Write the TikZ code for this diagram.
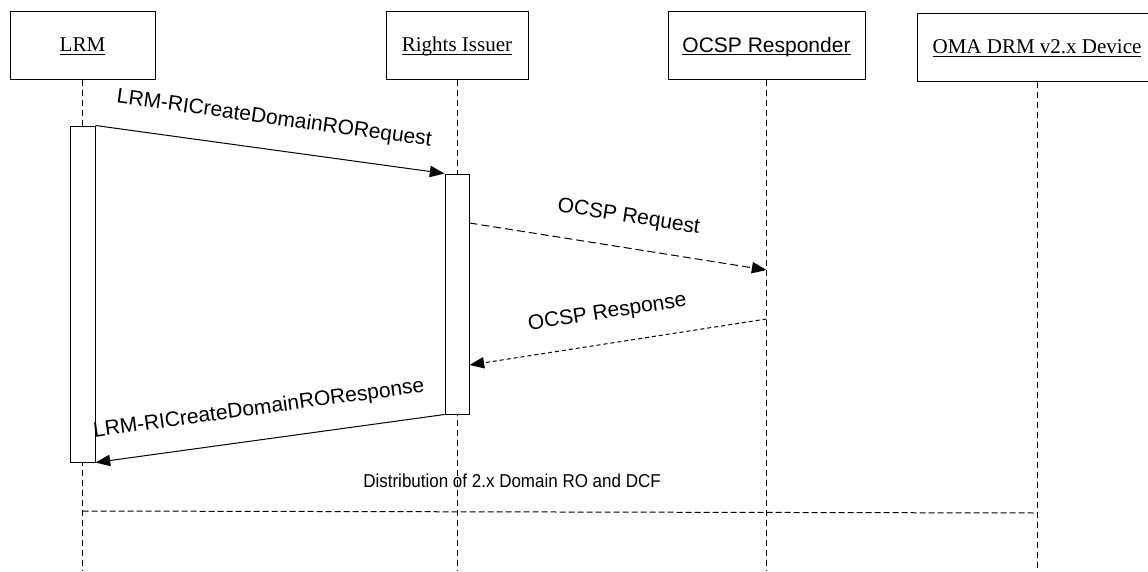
\documentclass[tikz,border=0pt]{standalone}
\usepackage{fontspec}
\setmainfont{Liberation Serif}
\newfontfamily\arialfont{Liberation Sans}
\usetikzlibrary{arrows.meta}
\usetikzlibrary{positioning}
\newcommand{\ulabel}[1]{\setbox0\hbox{#1}\rlap{\rule[-1.8pt]{\wd0}{0.6pt}}\box0}

\begin{document}
\begin{tikzpicture}[x=0.75pt,y=-0.75pt,line width=0.75pt,
    actor/.style={draw,minimum height=51pt,text height=10.4pt,text depth=0pt,font=\fontsize{15.75}{18}\selectfont},
    bar/.style={draw,fill=white,inner sep=0pt},
    lifeline/.style={dash pattern=on 4.5pt off 3pt},
    msg/.style={-{Triangle[length=11pt,width=8.5pt]}},
    msglabel/.style={sloped,above=18.5pt,inner sep=0pt,text depth=0pt,font=\arialfont\fontsize{15.75}{18}\selectfont}]

    \useasboundingbox (0,0) rectangle (1148,571);

    \node[actor,minimum width=108.75pt] (lrm) at (82.5,45) {\ulabel{LRM}};
    \node[actor,minimum width=106.5pt] (ri) at (457,45) {\ulabel{Rights Issuer}};
    \node[actor,minimum width=147.75pt,text height=11.3pt,font=\arialfont\fontsize{15.75}{18}\selectfont] (ocsp) at (766.5,45) {\ulabel{OCSP Responder}};
    \node[actor,minimum width=180pt] (oma) at (1037,47) {\ulabel{OMA DRM v2.x Device}};

    \foreach \n in {lrm,ri,ocsp,oma}
        \draw[lifeline] (\n.south) -- (\n.south |- 0,571);

    \node[bar,minimum width=18.75pt,minimum height=252pt] (lrmbar) at (82.5,294) {};
    \node[bar,minimum width=18pt,minimum height=180pt] (ribar) at (457,294) {};

    \coordinate (reqfrom) at (ribar.east |- 0,223);
    \coordinate (reqto) at (ocsp.south |- 0,270);
    \coordinate (respfrom) at (ocsp.south |- 0,319);
    \coordinate (respto) at (ribar.east |- 0,365);
    \coordinate (distfrom) at (lrm.south |- 0,511);
    \coordinate (distto) at (oma.south |- 0,513);

    \draw[msg] (lrmbar.north east) -- node[msglabel] (createreq) {LRM-RICreateDomainRORequest} (ribar.north west);
    \draw[msg,dash pattern=on 6pt off 3pt] (reqfrom) -- node[msglabel,pos=0.52] (ocspreq) {OCSP Request} (reqto);
    \draw[msg,dash pattern=on 3pt off 2.25pt] (respfrom) -- node[msglabel,pos=0.52] (ocspresp) {OCSP Response} (respto);
    \draw[msg] (ribar.south west) -- node[msglabel,pos=0.52] (createresp) {LRM-RICreateDomainROResponse} (lrmbar.south east);
    \draw[dash pattern=on 4.5pt off 2.25pt] (distfrom) -- node[pos=0.45,above=18pt,inner sep=0pt,text depth=0pt,font=\arialfont\fontsize{14}{16}\selectfont] (distlabel) {\scalebox{0.91}[1]{Distribution of 2.x Domain RO and DCF}} (distto);

\end{tikzpicture}
\end{document}
